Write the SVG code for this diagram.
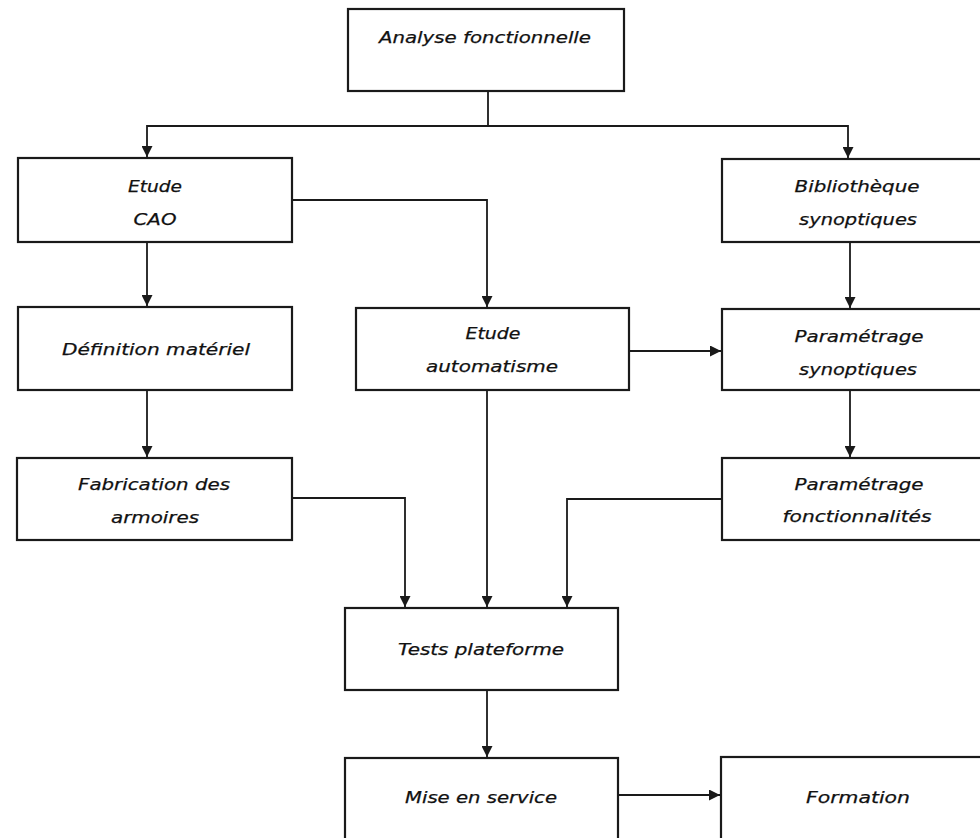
<svg xmlns="http://www.w3.org/2000/svg" width="980" height="838" viewBox="0 0 980 838">
<style>
.box{fill:#fff;stroke:#1a1a1a;stroke-width:2.2}
.lbl{font-family:"DejaVu Sans","Liberation Sans",sans-serif;font-style:italic;font-size:16px;fill:#111;stroke:#111;stroke-width:0.25;text-anchor:middle}
.con{fill:none;stroke:#1a1a1a;stroke-width:1.8}
</style>
<defs>
<marker id="arr" viewBox="0 0 10 10" refX="10" refY="5" markerWidth="11" markerHeight="11" markerUnits="userSpaceOnUse" orient="auto">
<path d="M0,0 L10,5 L0,10 Z" fill="#1a1a1a"/>
</marker>
</defs>
<rect width="980" height="838" fill="#fff"/>
<g id="connectors">
<path class="con" d="M488,91 V126 H147 V157" marker-end="url(#arr)"/>
<path class="con" d="M488,126 H848 V158" marker-end="url(#arr)"/>
<path class="con" d="M147,242 V306" marker-end="url(#arr)"/>
<path class="con" d="M292,200 H487 V307" marker-end="url(#arr)"/>
<path class="con" d="M147,390 V457" marker-end="url(#arr)"/>
<path class="con" d="M292,498 H405 V607" marker-end="url(#arr)"/>
<path class="con" d="M487,390 V607" marker-end="url(#arr)"/>
<path class="con" d="M722,499 H567 V607" marker-end="url(#arr)"/>
<path class="con" d="M629,351 H721" marker-end="url(#arr)"/>
<path class="con" d="M850,242 V308" marker-end="url(#arr)"/>
<path class="con" d="M850,390 V457" marker-end="url(#arr)"/>
<path class="con" d="M487,690 V757" marker-end="url(#arr)"/>
<path class="con" d="M618,795 H720" marker-end="url(#arr)"/>
</g>
<g id="analyse">
<rect class="box" x="348" y="9" width="276" height="82"/>
<text class="lbl" x="485" y="43" textLength="212" lengthAdjust="spacingAndGlyphs">Analyse fonctionnelle</text>
</g>
<g id="etude-cao">
<rect class="box" x="18" y="158" width="274" height="84"/>
<text class="lbl" x="155" y="192" textLength="54" lengthAdjust="spacingAndGlyphs">Etude</text>
<text class="lbl" x="155" y="225" textLength="43" lengthAdjust="spacingAndGlyphs">CAO</text>
</g>
<g id="bibliotheque">
<rect class="box" x="722" y="159" width="273" height="83"/>
<text class="lbl" x="857" y="192" textLength="125" lengthAdjust="spacingAndGlyphs">Bibliothèque</text>
<text class="lbl" x="858" y="225" textLength="118" lengthAdjust="spacingAndGlyphs">synoptiques</text>
</g>
<g id="definition">
<rect class="box" x="18" y="307" width="274" height="83"/>
<text class="lbl" x="156" y="355" textLength="188" lengthAdjust="spacingAndGlyphs">Définition matériel</text>
</g>
<g id="etude-automatisme">
<rect class="box" x="356" y="308" width="273" height="82"/>
<text class="lbl" x="493" y="339" textLength="55" lengthAdjust="spacingAndGlyphs">Etude</text>
<text class="lbl" x="492" y="372" textLength="132" lengthAdjust="spacingAndGlyphs">automatisme</text>
</g>
<g id="parametrage-synoptiques">
<rect class="box" x="722" y="309" width="273" height="81"/>
<text class="lbl" x="859" y="342" textLength="129" lengthAdjust="spacingAndGlyphs">Paramétrage</text>
<text class="lbl" x="858" y="375" textLength="118" lengthAdjust="spacingAndGlyphs">synoptiques</text>
</g>
<g id="fabrication">
<rect class="box" x="17" y="458" width="275" height="82"/>
<text class="lbl" x="154" y="490" textLength="152" lengthAdjust="spacingAndGlyphs">Fabrication des</text>
<text class="lbl" x="155" y="523" textLength="88" lengthAdjust="spacingAndGlyphs">armoires</text>
</g>
<g id="parametrage-fonctionnalites">
<rect class="box" x="722" y="458" width="273" height="82"/>
<text class="lbl" x="859" y="490" textLength="129" lengthAdjust="spacingAndGlyphs">Paramétrage</text>
<text class="lbl" x="857" y="522" textLength="149" lengthAdjust="spacingAndGlyphs">fonctionnalités</text>
</g>
<g id="tests">
<rect class="box" x="345" y="608" width="273" height="82"/>
<text class="lbl" x="481" y="655" textLength="166" lengthAdjust="spacingAndGlyphs">Tests plateforme</text>
</g>
<g id="mise-en-service">
<rect class="box" x="345" y="758" width="273" height="92"/>
<text class="lbl" x="481" y="803" textLength="152" lengthAdjust="spacingAndGlyphs">Mise en service</text>
</g>
<g id="formation">
<rect class="box" x="721" y="757" width="274" height="93"/>
<text class="lbl" x="858" y="803" textLength="104" lengthAdjust="spacingAndGlyphs">Formation</text>
</g>
</svg>
